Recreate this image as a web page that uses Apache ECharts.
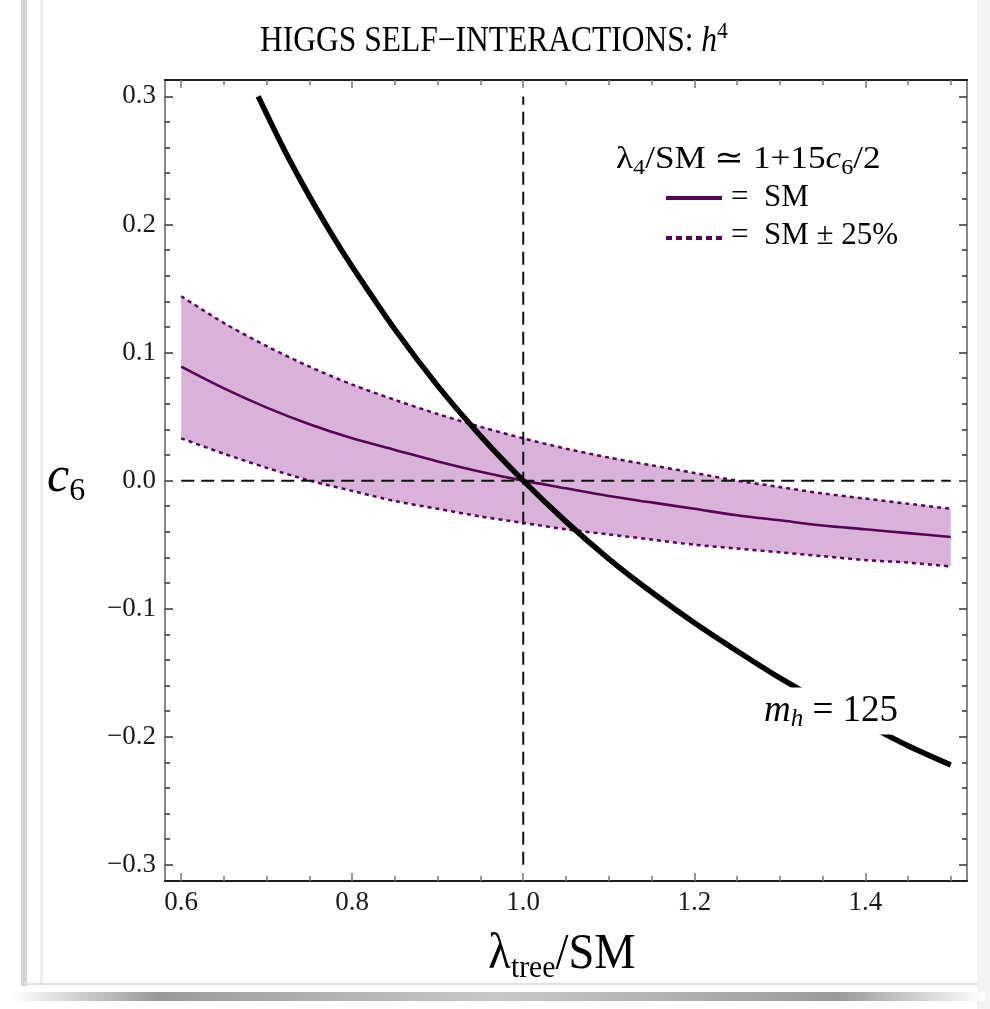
<!DOCTYPE html>
<html><head><meta charset="utf-8">
<script src="https://cdn.jsdelivr.net/npm/echarts@6/dist/echarts.min.js"></script>
<style>html,body{margin:0;padding:0;background:#fff}#c{width:990px;height:1009px}</style>
</head><body><div id="c"></div>
<script>
// ---- data ----
const bandX     = [0.60,0.65,0.70,0.75,0.80,0.85,0.90,0.95,1.00,1.05,1.10,1.15,1.20,1.25,1.30,1.35,1.40,1.45,1.50];
const smCentral = [0.089,0.072,0.057,0.044,0.033,0.024,0.015,0.007,0.000,-0.006,-0.012,-0.017,-0.022,-0.027,-0.031,-0.035,-0.038,-0.041,-0.044];
const smUpper   = [0.144,0.123,0.105,0.089,0.075,0.063,0.052,0.042,0.033,0.025,0.018,0.012,0.006,0.000,-0.005,-0.010,-0.014,-0.018,-0.022];
const smLower   = [0.033,0.021,0.010,0.000,-0.008,-0.016,-0.022,-0.028,-0.033,-0.038,-0.042,-0.046,-0.050,-0.053,-0.056,-0.059,-0.062,-0.064,-0.067];
const mhX  = [0.69,0.72,0.75,0.78,0.80,0.85,0.90,0.95,1.00,1.05,1.10,1.15,1.20,1.25,1.30,1.35,1.40,1.45,1.50];
const mhC6 = [0.300,0.259,0.222,0.188,0.167,0.118,0.074,0.035,0.000,-0.032,-0.061,-0.087,-0.111,-0.133,-0.154,-0.173,-0.190,-0.207,-0.222];
const refHx = [0.6, 1.5], refHy = [0, 0];
const refVx = [1.0, 1.0], refVy = [-0.3, 0.3];
const xMajorTicks = [0.6,0.8,1.0,1.2,1.4];
const xMinorTicks = [0.65,0.7,0.75,0.85,0.9,0.95,1.05,1.1,1.15,1.25,1.3,1.35,1.45,1.5];
const yMajorTicks = [-0.3,-0.2,-0.1,0,0.1,0.2,0.3];
const yMinorTicks = [-0.28,-0.26,-0.24,-0.22,-0.18,-0.16,-0.14,-0.12,-0.08,-0.06,-0.04,-0.02,
                     0.02,0.04,0.06,0.08,0.12,0.14,0.16,0.18,0.22,0.24,0.26,0.28];

const X_MIN = 0.581, X_MAX = 1.519, Y_MIN = -0.3126, Y_MAX = 0.3128;
const SERIF = "'Liberation Serif', 'DejaVu Serif', serif";
const PURPLE = '#560456', FILL = '#d9b2d9';

const chart = echarts.init(document.getElementById('c'), null, {renderer: 'canvas'});

function xAxis(pos, vals, len, labels) {
  return {
    type: 'value', gridIndex: 0, position: pos, min: X_MIN, max: X_MAX,
    axisLine: {show: true, onZero: false, lineStyle: {color: '#111', width: 1.5}},
    axisTick: {show: true, inside: true, length: len, customValues: vals, lineStyle: {color: '#777', width: 1.5}},
    axisLabel: {show: labels, customValues: vals, margin: 8, fontFamily: SERIF, fontSize: 27, color: '#1a1a1a',
      formatter: v => v.toFixed(1)},
    splitLine: {show: false}
  };
}
function yAxis(pos, vals, len, labels) {
  return {
    type: 'value', gridIndex: 0, position: pos, min: Y_MIN, max: Y_MAX,
    axisLine: {show: true, onZero: false, lineStyle: {color: '#888', width: 2}},
    axisTick: {show: true, inside: true, length: len, customValues: vals, lineStyle: {color: '#333', width: 1.5}},
    axisLabel: {show: labels, customValues: vals, margin: 9, fontFamily: SERIF, fontSize: 27, color: '#1a1a1a',
      formatter: v => (v < 0 ? '\u2212' : '') + Math.abs(v).toFixed(1)},
    splitLine: {show: false}
  };
}

const rich = {
  t:   {fontFamily: SERIF, fontSize: 31, color: '#111', lineHeight: 48},
  l:   {fontFamily: SERIF, fontSize: 32, color: '#111', lineHeight: 48},
  li:  {fontFamily: SERIF, fontSize: 32, fontStyle: 'italic', color: '#111', lineHeight: 48},
  sub: {fontFamily: SERIF, fontSize: 22, color: '#111', lineHeight: 22, padding: [17, 0, 0, 0]},
  T:   {fontFamily: SERIF, fontSize: 35, color: '#111', lineHeight: 54},
  Ti:  {fontFamily: SERIF, fontSize: 35, fontStyle: 'italic', color: '#111', lineHeight: 54},
  sup: {fontFamily: SERIF, fontSize: 24, color: '#111', lineHeight: 24, padding: [0, 0, 20, 0]},
  A:   {fontFamily: SERIF, fontSize: 50, color: '#111', lineHeight: 72},
  Ai:  {fontFamily: SERIF, fontSize: 50, fontStyle: 'italic', color: '#111', lineHeight: 72},
  Asub:{fontFamily: SERIF, fontSize: 32, color: '#111', lineHeight: 32, padding: [27, 0, 0, 0]},
  m:   {fontFamily: SERIF, fontSize: 37, color: '#111', lineHeight: 43},
  mi:  {fontFamily: SERIF, fontSize: 37, fontStyle: 'italic', color: '#111', lineHeight: 43},
  msub:{fontFamily: SERIF, fontSize: 25, fontStyle: 'italic', color: '#111', lineHeight: 25, padding: [16, 0, 0, 0]}
};

function txt(x, y, text, align, extra, scaleX) {
  return {type: 'text', x: x, y: y, z: 100, scaleX: scaleX || 1, originX: 0, originY: 0,
    style: Object.assign({text: text, rich: rich, align: align || 'left', verticalAlign: 'middle'}, extra || {})};
}

const option = {
  animation: false,
  backgroundColor: '#fff',
  grid: {left: 165, right: 23, top: 80, bottom: 128, containLabel: false},
  xAxis: [xAxis('bottom', xMajorTicks, 8, true), xAxis('bottom', xMinorTicks, 5, false),
          xAxis('top', xMajorTicks, 8, false), xAxis('top', xMinorTicks, 5, false)],
  yAxis: [yAxis('left', yMajorTicks, 8, true), yAxis('left', yMinorTicks, 5, false),
          yAxis('right', yMajorTicks, 8, false), yAxis('right', yMinorTicks, 5, false)],
  series: [
    {
      type: 'custom', xAxisIndex: 0, yAxisIndex: 0, z: 1, silent: true,
      data: bandX.map((x, i) => [x, smUpper[i], smLower[i]]),
      encode: {x: 0, y: [1, 2]},
      renderItem: function (params, api) {
        if (params.dataIndex !== 0) return null;
        const pts = [];
        for (let i = 0; i < bandX.length; i++) pts.push(api.coord([bandX[i], smUpper[i]]));
        for (let i = bandX.length - 1; i >= 0; i--) pts.push(api.coord([bandX[i], smLower[i]]));
        return {type: 'polygon', shape: {points: pts}, style: {fill: FILL}};
      }
    },
    {type: 'line', z: 2, data: bandX.map((x, i) => [x, smUpper[i]]), showSymbol: false, smooth: 0.3,
      lineStyle: {color: PURPLE, width: 2.5, type: [4, 4]}},
    {type: 'line', z: 2, data: bandX.map((x, i) => [x, smLower[i]]), showSymbol: false, smooth: 0.3,
      lineStyle: {color: PURPLE, width: 2.5, type: [4, 4]}},
    {type: 'line', z: 3, data: bandX.map((x, i) => [x, smCentral[i]]), showSymbol: false, smooth: 0.3,
      lineStyle: {color: PURPLE, width: 2.6}},
    {type: 'line', z: 4, data: refHx.map((x, i) => [x, refHy[i]]), showSymbol: false,
      lineStyle: {color: '#111', width: 2, type: [13, 7]}},
    {type: 'line', z: 4, data: refVx.map((x, i) => [x, refVy[i]]), showSymbol: false,
      lineStyle: {color: '#111', width: 2, type: [13, 7]}},
    {type: 'line', z: 5, data: mhX.map((x, i) => [x, mhC6[i]]), showSymbol: false, smooth: 0.3,
      lineStyle: {color: '#000', width: 5.5}}
  ],
  graphic: [
    // card decorations
    {type: 'rect', z: -10, shape: {x: 21, y: 0, width: 6, height: 986}, style: {fill: '#d4d4d4'}},
    {type: 'rect', z: -10, shape: {x: 40, y: 0, width: 3, height: 986}, style: {fill: '#f0f0f0'}},
    {type: 'rect', z: -10, shape: {x: 977, y: 0, width: 13, height: 1009}, style: {fill: '#f3f3f3'}},
    {type: 'rect', z: -10, shape: {x: 24, y: 983, width: 953, height: 2}, style: {fill: '#e2e2e2'}},
    {type: 'rect', z: -10, shape: {x: 10, y: 992, width: 975, height: 9},
      style: {fill: new echarts.graphic.LinearGradient(0, 0, 1, 0, [
        {offset: 0, color: 'rgba(255,255,255,1)'}, {offset: 0.15, color: '#9a9a9a'},
        {offset: 0.5, color: '#c8c8c8'}, {offset: 0.85, color: '#9a9a9a'}, {offset: 1, color: 'rgba(255,255,255,1)'}])}},
    // title
    txt(494, 42, '{T|HIGGS SELF\u2212INTERACTIONS: }{Ti|h}{sup|4}', 'center', null, 0.9),
    // axis names
    txt(47, 478, '{Ai|c}{Asub|6}', 'left'),
    txt(562, 955, '{A|\u03bb}{Asub|tree}{A|/SM}', 'center', null, 0.93),
    // legend
    txt(616, 160, '{l|\u03bb}{sub|4}{l|/SM \u2243 1+15}{li|c}{sub|6}{l|/2}', 'left', null, 1.1),
    {type: 'line', z: 100, shape: {x1: 666, y1: 198, x2: 722, y2: 198}, style: {stroke: PURPLE, lineWidth: 4}},
    txt(731, 198, '{t|=  SM}', 'left'),
    {type: 'line', z: 100, shape: {x1: 666, y1: 238, x2: 722, y2: 238}, style: {stroke: PURPLE, lineWidth: 4, lineDash: [6, 4]}},
    txt(731, 236, '{t|=  SM \u00b1 25%}', 'left'),
    // m_h label with white box
    txt(831, 711, '{mi|m}{msub|h}{m| = 125}', 'center', {backgroundColor: '#fff', padding: [2, 3, 2, 3]})
  ]
};
chart.setOption(option);
</script>
</body></html>
